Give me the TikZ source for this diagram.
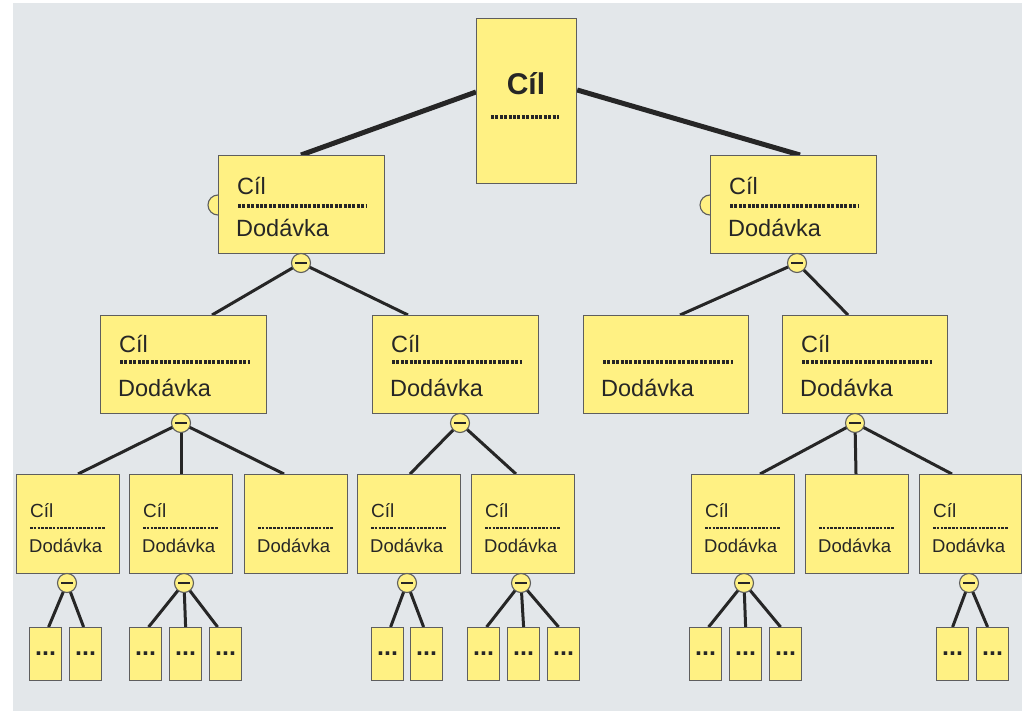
\documentclass[tikz,border=0pt]{standalone}
\usepackage{fontspec}
\setmainfont{Liberation Sans}
\usetikzlibrary{calc}
\pgfdeclarelayer{bgl}\pgfdeclarelayer{edges}
\pgfsetlayers{bgl,edges,main}
\definecolor{bgc}{HTML}{E3E7EA}
\definecolor{boxfill}{HTML}{FFF183}
\definecolor{boxline}{HTML}{5E5E5E}
\definecolor{ink}{HTML}{262626}
\tikzset{
  box/.style={draw=boxline,fill=boxfill,line width=1.2pt,inner sep=0pt,anchor=north west},
  lone/.style={box,minimum width=166pt,minimum height=98pt},
  ltwo/.style={box,minimum width=166pt,minimum height=98pt},
  lthree/.style={box,minimum width=103pt,minimum height=99pt},
  leaf/.style={box,minimum width=32pt,minimum height=53pt,
     font=\fontsize{25}{26}\selectfont\bfseries,text=ink},
  mc/.style={circle,draw=boxline,fill=boxfill,line width=1.1pt,minimum size=19pt,inner sep=0pt,
     path picture={\draw[ink,line width=1.3pt] ($(path picture bounding box.center)+(-6,0)$) -- ++(12,0);}},
  hc/.style={circle,draw=boxline,fill=boxfill,line width=1.1pt,minimum size=20pt,inner sep=0pt},
  big/.style={anchor=base west,text=ink,inner sep=0pt,font=\fontsize{23.5}{26}\selectfont},
  small/.style={anchor=base west,text=ink,inner sep=0pt,font=\fontsize{18.5}{20}\selectfont},
  dotline/.style={ink,line width=3.3pt,dash pattern=on 3pt off 1.4pt},
  dotsmall/.style={ink,line width=2.8pt,dash pattern=on 2.6pt off 1.2pt},
  thinedge/.style={ink,line width=3pt},
  thickedge/.style={ink,line width=5pt},
}
\begin{document}
\begin{tikzpicture}[x=1pt,y=-1pt]
\useasboundingbox (0,0) rectangle (1022,711);
\begin{pgfonlayer}{bgl}
\fill[white] (0,0) rectangle (1022,711);
\fill[bgc] (13,3) rectangle (1022,711);
\end{pgfonlayer}

% top
\node[box,minimum width=100pt,minimum height=165pt] (T) at (476,18) {};
\node[anchor=base,text=ink,inner sep=0pt,font=\fontsize{30}{32}\selectfont\bfseries] (Tt) at ($(T.north west)+(50,77)$) {Cíl};
\draw[dotline] ($(T.north west)+(15,99)$) -- ($(T.north west)+(83,99)$);

% level 1
\node[hc] (h1) at (218,205) {};
\node[lone] (L1a) at (218,155) {};
\node[hc] (h2) at (710,205) {};
\node[lone] (L1b) at (710,155) {};
\foreach \n in {L1a,L1b}{
  \node[big] at ($(\n.north west)+(19,40)$) {Cíl};
  \draw[dotline] ($(\n.north west)+(20,51)$) -- ++(129,0);
  \node[big] at ($(\n.north west)+(18,82)$) {Dodávka};
}
\node[mc] (c1) at (301,263) {};
\node[mc] (c2) at (797,263) {};

% level 2
\node[ltwo] (L2a) at (100,315) {};
\node[ltwo] (L2b) at (372,315) {};
\node[ltwo,minimum width=165pt] (L2c) at (583,315) {};
\node[ltwo,minimum width=165pt] (L2d) at (782,315) {};
\foreach \n in {L2a,L2b,L2d}{
  \node[big] at ($(\n.north west)+(19,37)$) {Cíl};
}
\foreach \n in {L2a,L2b,L2c,L2d}{
  \draw[dotline] ($(\n.north west)+(20,47)$) -- ++(130,0);
  \node[big] at ($(\n.north west)+(18,81)$) {Dodávka};
}
\node[mc] (cA) at (181,423) {};
\node[mc] (cB) at (460,423) {};
\node[mc] (cD) at (855,423) {};

% level 3
\node[lthree] (m1) at (16,474) {};
\node[lthree] (m2) at (129,474) {};
\node[lthree] (m3) at (244,474) {};
\node[lthree] (m4) at (357,474) {};
\node[lthree] (m5) at (471,474) {};
\node[lthree] (m6) at (691,474) {};
\node[lthree] (m7) at (805,474) {};
\node[lthree,minimum width=102pt] (m8) at (919,474) {};
\foreach \n in {m1,m2,m4,m5,m6,m8}{
  \node[small,font=\fontsize{19}{20}\selectfont] at ($(\n.north west)+(14,43)$) {Cíl};
}
\foreach \n in {m1,m2,m3,m4,m5,m6,m7,m8}{
  \draw[dotsmall] ($(\n.north west)+(14,54)$) -- ++(75,0);
  \node[small] at ($(\n.north west)+(13,78)$) {Dodávka};
}
\node[mc] (d1) at (67,583) {};
\node[mc] (d2) at (184,583) {};
\node[mc] (d4) at (407,583) {};
\node[mc] (d5) at (521,583) {};
\node[mc] (d6) at (744,583) {};
\node[mc] (d8) at (969,583) {};

% leaves
\foreach \x [count=\i] in {29,69,129,169,209,371,410,467,507,547,689,729,769,936,976}{
  \node[leaf] (f\i) at (\x,627) {...};
}

% edges
\begin{pgfonlayer}{edges}
\draw[thickedge] ($(T.north west)+(0,74)$) -- ($(L1a.north west)+(83,0)$);
\draw[thickedge] ($(T.north east)+(0,72)$) -- ($(L1b.north west)+(90,0)$);
\draw[thinedge] (c1.center) -- ($(L2a.north west)+(112,0)$);
\draw[thinedge] (c1.center) -- ($(L2b.north west)+(36,0)$);
\draw[thinedge] (c2.center) -- ($(L2c.north west)+(97,0)$);
\draw[thinedge] (c2.center) -- ($(L2d.north west)+(66,0)$);
\draw[thinedge] (cA.center) -- ($(m1.north west)+(62,0)$);
\draw[thinedge] (cA.center) -- ($(m2.north west)+(52,0)$);
\draw[thinedge] (cA.center) -- ($(m3.north west)+(40,0)$);
\draw[thinedge] (cB.center) -- ($(m4.north west)+(53,0)$);
\draw[thinedge] (cB.center) -- ($(m5.north west)+(45,0)$);
\draw[thinedge] (cD.center) -- ($(m6.north west)+(69,0)$);
\draw[thinedge] (cD.center) -- ($(m7.north west)+(51,0)$);
\draw[thinedge] (cD.center) -- ($(m8.north west)+(33,0)$);
\draw[thinedge] (d1.center) -- ($(f1.north)+(3,0)$);
\draw[thinedge] (d1.center) -- ($(f2.north)+(-2,0)$);
\draw[thinedge] (d2.center) -- ($(f3.north)+(3,0)$);
\draw[thinedge] (d2.center) -- (f4.north);
\draw[thinedge] (d2.center) -- ($(f5.north)+(-8,0)$);
\draw[thinedge] (d4.center) -- ($(f6.north)+(3,0)$);
\draw[thinedge] (d4.center) -- ($(f7.north)+(-3,0)$);
\draw[thinedge] (d5.center) -- ($(f8.north)+(3,0)$);
\draw[thinedge] (d5.center) -- (f9.north);
\draw[thinedge] (d5.center) -- ($(f10.north)+(-5,0)$);
\draw[thinedge] (d6.center) -- ($(f11.north)+(3,0)$);
\draw[thinedge] (d6.center) -- (f12.north);
\draw[thinedge] (d6.center) -- ($(f13.north)+(-5,0)$);
\draw[thinedge] (d8.center) -- ($(f14.north)+(0,0)$);
\draw[thinedge] (d8.center) -- ($(f15.north)+(-5,0)$);
\end{pgfonlayer}
\end{tikzpicture}
\end{document}
